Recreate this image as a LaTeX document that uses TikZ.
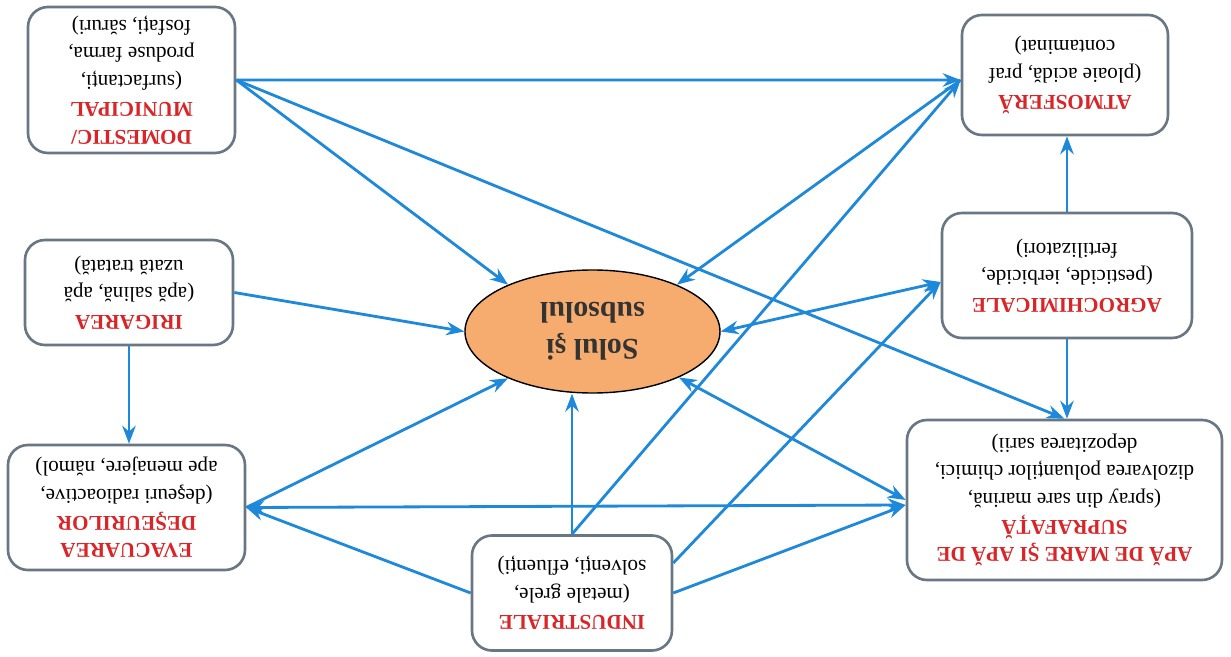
\documentclass[tikz,border=0pt]{standalone}
\usepackage{fontspec}
\setmainfont{Liberation Serif}
\usetikzlibrary{arrows.meta,shapes.geometric}
\definecolor{srcred}{RGB}{218,37,40}
\definecolor{flowblue}{RGB}{30,136,218}
\definecolor{boxgray}{RGB}{105,118,132}
\definecolor{soilorange}{RGB}{245,172,110}
\newcommand{\srcname}[1]{\textcolor{srcred}{\textbf{#1}}}

\begin{document}
\begin{tikzpicture}[rotate=180,transform shape,>=Stealth,
  src/.style={draw=boxgray,line width=1.5pt,rounded corners=4mm,fill=white,align=center,
              font=\fontsize{12}{15.6}\selectfont},
  soil/.style={ellipse,draw=black,line width=0.8pt,fill=soilorange,align=center,
               font=\fontsize{17}{21}\selectfont\bfseries,text=black!80},
  flow/.style={draw=flowblue,line width=1.6pt}]
\useasboundingbox (0,0) rectangle (24.62,13.14);
\node[soil,minimum width=5.1cm,minimum height=2.46cm] (sol) at (12.77,6.63) {Solul şi\\subsolul};
\node[src,minimum width=4.14cm,minimum height=2.92cm] (dom) at (21.99,1.60)
 {\srcname{DOMESTIC/}\\\srcname{MUNICIPAL}\\(surfactanți,\\produse farma,\\fosfați, săruri)};
\node[src,minimum width=4.12cm,minimum height=2.40cm] (atm) at (3.32,1.50)
 {\srcname{ATMOSFERĂ}\\(ploaie acidă, praf\\contaminat)};
\node[src,minimum width=4.16cm,minimum height=2.10cm] (iri) at (22.04,5.85)
 {\srcname{IRIGAREA}\\(apă salină, apă\\uzată tratată)};
\node[src,minimum width=5.00cm,minimum height=2.50cm] (agro) at (3.28,5.51)
 {\srcname{AGROCHIMICALE}\\(pesticide, ierbicide,\\fertilizatori)};
\node[src,minimum width=4.74cm,minimum height=2.50cm] (evac) at (22.09,10.15)
 {\srcname{EVACUAREA}\\\srcname{DEŞEURILOR}\\(deşeuri radioactive,\\ape menajere, nămol)};
\node[src,minimum width=6.30cm,minimum height=3.20cm] (apa) at (3.33,10.00)
 {\srcname{APĂ DE MARE ŞI APĂ DE}\\\srcname{SUPRAFAȚĂ}\\(spray din sare marină,\\dizolvarea poluanților chimici,\\depozitarea sarii)};
\node[src,minimum width=4.00cm,minimum height=2.30cm] (ind) at (13.18,11.86)
 {\srcname{INDUSTRIALE}\\(metale grele,\\solvenți, efluenți)};
\draw[flow,->] (dom.west) -- ([yshift=1mm]atm.east);
\draw[flow,->] (dom.west) -- (sol.331);
\draw[flow,->] (dom.west) -- (apa.south);
\draw[flow,->] (iri.west) -- (sol.east);
\draw[flow,->] (iri.north) -- (iri.north |- evac.south);
\draw[flow,->] (evac.west) -- (sol.29);
\draw[flow,<->] (evac.west) -- ([yshift=1mm]apa.east);
\draw[flow,->] (ind.east) -- (evac.west);
\draw[flow,->] (ind.south) -- (ind.south |- sol.north);
\draw[flow,->] (ind.south) -- ([yshift=1mm]atm.east);
\draw[flow,->] ([yshift=-6mm]ind.west) -- ([yshift=1.3mm]agro.east);
\draw[flow,->] (ind.west) -- ([yshift=1mm]apa.east);
\draw[flow,->] ([yshift=1mm]atm.east) -- (sol.209);
\draw[flow,<->] (sol.west) -- ([yshift=1.3mm]agro.east);
\draw[flow,<->] (sol.152) -- (apa.east);
\draw[flow,->] (agro.south) -- (agro.south |- atm.north);
\draw[flow,->] (agro.north) -- (agro.north |- apa.south);
\end{tikzpicture}
\end{document}
